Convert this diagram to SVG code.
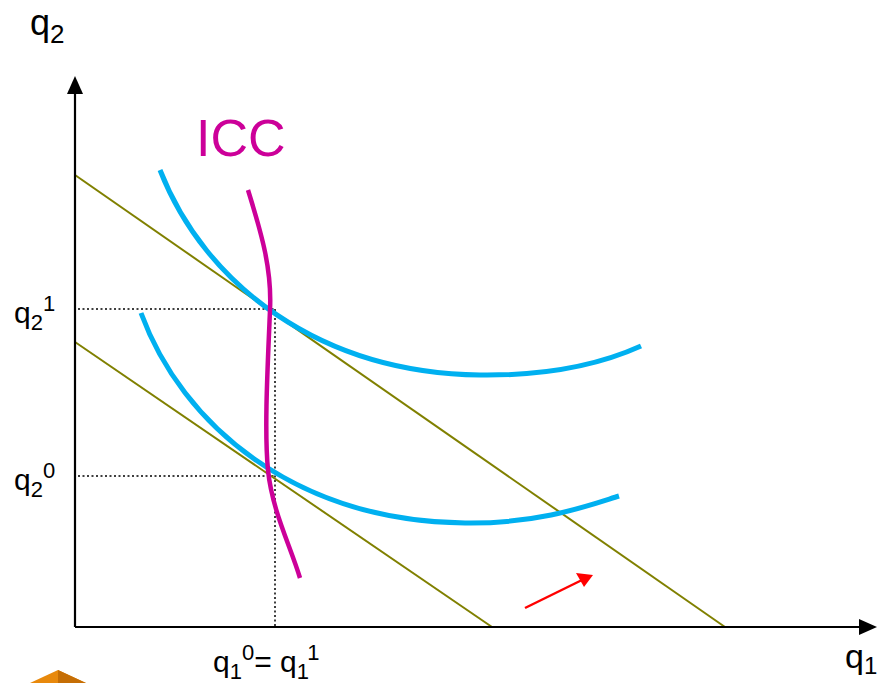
<svg xmlns="http://www.w3.org/2000/svg" width="883" height="683" viewBox="0 0 883 683">
<style>
.ax{stroke:#000;stroke-width:2.2;fill:none}
.bl{stroke:#808000;stroke-width:2;fill:none}
.ic{stroke:#00B0F0;stroke-width:5;fill:none;stroke-linecap:butt}
.icc{stroke:#CC0099;stroke-width:4.5;fill:none}
.dot{stroke:#000;stroke-width:1.5;stroke-dasharray:2,2.5;fill:none}
text{font-family:"Liberation Sans",Arial,sans-serif;fill:#000}
</style>
<rect width="883" height="683" fill="#fff"/>
<g id="connectors">
<line class="dot" x1="78" y1="309" x2="275" y2="309"/>
<line class="dot" x1="78" y1="476" x2="275" y2="476"/>
<line class="dot" x1="275" y1="309" x2="275" y2="627"/>
<line class="bl" x1="75" y1="175" x2="725" y2="627"/>
<line class="bl" x1="75" y1="342" x2="492" y2="627"/>
<path class="ic" d="M160,170 C205,285 320,373 480,375 C560,376 610,360 641,346"/>
<path class="ic" d="M141,313 C182,425 295,521 465,523 C540,524 590,505 619,496"/>
<path class="icc" d="M248,190 C262,235 272,270 270,310 C268,360 264,430 268,470 C272,510 290,545 300,578"/>
<line x1="75" y1="627" x2="75" y2="93" class="ax"/>
<polygon points="75,76 67,94 83,94" fill="#000"/>
<line x1="75" y1="627" x2="860" y2="627" class="ax"/>
<polygon points="877,627 859,619 859,635" fill="#000"/>
<line x1="525" y1="608" x2="582" y2="580" stroke="#ff0000" stroke-width="2.5"/>
<polygon points="593,575 576,573 584,587" fill="#ff0000"/>
</g>
<g id="labels">
<text x="30" y="35" font-size="36">q<tspan font-size="26" dy="8">2</tspan></text>
<text x="14" y="323" font-size="30">q<tspan font-size="22" dy="7">2</tspan><tspan font-size="22" dy="-19">1</tspan></text>
<text x="14" y="490" font-size="30">q<tspan font-size="22" dy="7">2</tspan><tspan font-size="22" dy="-19">0</tspan></text>
<text x="213" y="672" font-size="30">q<tspan font-size="22" dy="7">1</tspan><tspan font-size="22" dy="-19">0</tspan><tspan dy="12">= q</tspan><tspan font-size="22" dy="7">1</tspan><tspan font-size="22" dy="-19">1</tspan></text>
<text x="845" y="668" font-size="34">q<tspan font-size="24" dy="6">1</tspan></text>
<text x="196" y="156" font-size="52" style="fill:#CC0099">ICC</text>
</g>
<g id="icon">
<polygon points="30,683 58,670 86,683" fill="#E8890C"/>
<polygon points="58,670 86,683 58,683" fill="#C56E05"/>
</g>
</svg>
